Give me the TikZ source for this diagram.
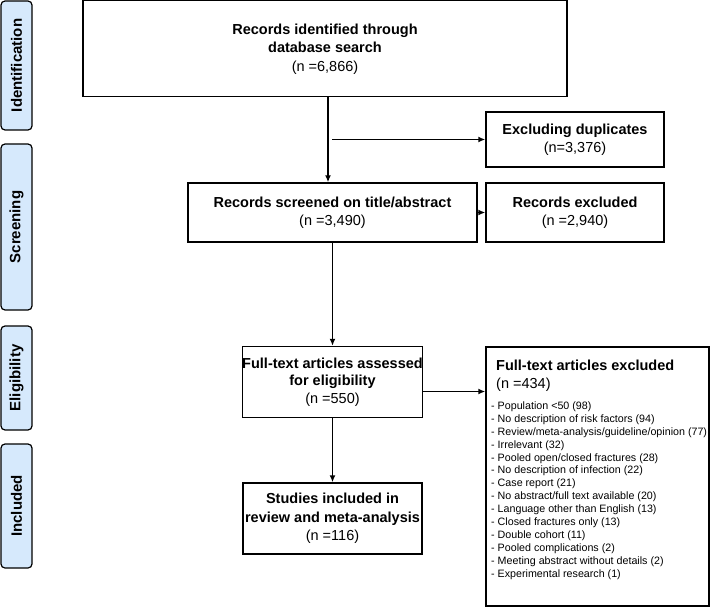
\documentclass[tikz,border=0pt]{standalone}
\usepackage{fontspec}
\setmainfont{Liberation Sans}
\usetikzlibrary{arrows.meta,calc}
\definecolor{sidefill}{RGB}{214,233,252}
\begin{document}
\begin{tikzpicture}[x=1pt,y=-1pt,
  box/.style={draw=black, line width=1.4pt, fill=white, align=center, inner sep=0pt, font=\fontsize{14.5}{18}\selectfont},
  side/.style={draw=black, line width=1.2pt, fill=sidefill, rounded corners=4pt, rotate=90, inner sep=0pt, minimum height=31pt, font=\fontsize{15}{18}\selectfont\bfseries},
  arr/.style={line width=1.4pt, -{Latex[length=7pt,width=6pt]}},
  listtext/.style={anchor=north west, inner sep=0pt, align=left, font=\fontsize{10.7}{12.9}\selectfont},
]
\useasboundingbox (0,0) rectangle (710,607);

% side labels
\node[side, minimum width=129pt] (sid) at (16.5,65.5) {Identification};
\node[side, minimum width=166pt] (ssc) at (16.5,227) {Screening};
\node[side, minimum width=104pt] (sel) at (16.5,378) {Eligibility};
\node[side, minimum width=124pt] (sin) at (16.5,506) {Included};

% boxes
\node[box, minimum width=484pt, minimum height=96pt, font=\fontsize{14.5}{18.5}\selectfont] (top) at (325,48.8)
  {\textbf{Records identified through}\\\textbf{database search}\\(n =6,866)};
\node[box, minimum width=289pt, minimum height=59pt] (scr) at (332.5,212.5)
  {\textbf{Records screened on title/abstract}\\(n =3,490)};
\node[box, minimum width=178pt, minimum height=55pt] (dup) at (575,139.5)
  {\textbf{Excluding duplicates}\\(n=3,376)};
\node[box, minimum width=178pt, minimum height=59pt] (rex) at (575,212.5)
  {\textbf{Records excluded}\\(n =2,940)};
\node[box, minimum width=179pt, minimum height=71pt, font=\fontsize{14.5}{17.5}\selectfont] (ft) at (332.5,382)
  {\textbf{Full-text articles assessed}\\\textbf{for eligibility}\\(n =550)};
\node[box, minimum width=179pt, minimum height=71pt, font=\fontsize{14.5}{18.5}\selectfont] (inc) at (332.5,518.5)
  {\textbf{Studies included in}\\\textbf{review and meta-analysis}\\(n =116)};
\node[box, minimum width=223pt, minimum height=259pt] (exl) at (597.5,476.5) {};

\node[anchor=north west, inner sep=0pt, align=left, font=\fontsize{14.5}{18}\selectfont] (exlhead) at (496,360)
  {\textbf{Full-text articles excluded}\\(n =434)};
\node[listtext] (exllist) at (491,401.5)
  {- Population <50 (98)\\
   - No description of risk factors (94)\\
   - Review/meta-analysis/guideline/opinion (77)\\
   - Irrelevant (32)\\
   - Pooled open/closed fractures (28)\\
   - No description of infection (22)\\
   - Case report (21)\\
   - No abstract/full text available (20)\\
   - Language other than English (13)\\
   - Closed fractures only (13)\\
   - Double cohort (11)\\
   - Pooled complications (2)\\
   - Meeting abstract without details (2)\\
   - Experimental research (1)};

% connectors
\draw[arr] ([xshift=3pt]top.south) -- ([xshift=3pt]top.south |- scr.north);
\coordinate (br) at (332,139.5);
\draw[arr] (br) -- (dup.west);
\draw[arr] (scr.east) -- (rex.west);
\draw[arr] (scr.south) -- (ft.north);
\draw[arr] ([yshift=-9.5pt]ft.east) -- ([yshift=-9.5pt]ft.east -| exl.west);
\draw[arr] (ft.south) -- (inc.north);
\end{tikzpicture}
\end{document}
